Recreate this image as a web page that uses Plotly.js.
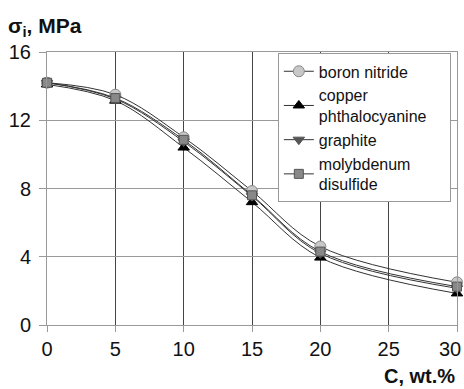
<!DOCTYPE html>
<html><head><meta charset="utf-8">
<script src="https://cdn.plot.ly/plotly-3.0.1.min.js"></script>
<style>html,body{margin:0;padding:0;background:#fff;}#c{width:464px;height:389px;}</style>
</head><body><div id="c"></div>
<script>
var concentration = [0, 5, 10, 15, 20, 30];
var boronNitride = [14.2, 13.5, 11.0, 7.85, 4.6, 2.5];
var copperPhthalocyanine = [14.1, 13.15, 10.4, 7.2, 3.95, 1.85];
var graphite = [14.2, 13.25, 10.75, 7.55, 4.2, 2.15];
var molybdenumDisulfide = [14.2, 13.3, 10.85, 7.6, 4.3, 2.25];
var seriesNames = ["boron nitride", "copper<br>phthalocyanine", "graphite", "molybdenum<br>disulfide"];
var xTicks = [0, 5, 10, 15, 20, 25, 30];
var xTickText = ["0", "5", "10", "15", "20", "25", "30"];
var yTicks = [0, 4, 8, 12, 16];

var styles = [
  {symbol: "circle", color: "#c8c8c8", lc: "#888", size: 11},
  {symbol: "triangle-up", color: "#000", lc: "#000", size: 10},
  {symbol: "triangle-down", color: "#555", lc: "#555", size: 10},
  {symbol: "square", color: "#888", lc: "#555", size: 9}
];
var legendPad = "\u00a0\u00a0\u00a0\u00a0";
var ys = [boronNitride, copperPhthalocyanine, graphite, molybdenumDisulfide];
var traces = ys.map(function(y, i){
  return {
    x: concentration, y: y, name: seriesNames[i] + (i === 1 ? legendPad : ""),
    type: "scatter", mode: "lines+markers",
    line: {shape: "spline", smoothing: 1, color: "#333", width: 1},
    marker: {symbol: styles[i].symbol, size: styles[i].size, color: styles[i].color,
             line: {color: styles[i].lc, width: 1}},
    cliponaxis: false
  };
});

var lastIdx = xTicks.length - 1;
var layout = {
  width: 464, height: 389,
  margin: {l: 47, r: 7, t: 52, b: 64, autoexpand: false},
  paper_bgcolor: "#fff", plot_bgcolor: "#fff",
  font: {family: "Arial, 'Liberation Sans', sans-serif", color: "#111", size: 20},
  showlegend: true,
  legend: {x: 0.563, y: 0.995, xanchor: "left", yanchor: "top",
           bgcolor: "#fff", bordercolor: "#999", borderwidth: 1,
           font: {size: 16, color: "#111"}, tracegroupgap: 0, itemwidth: 30},
  xaxis: {range: [0, 30], tickvals: xTicks,
          ticktext: xTickText.map(function(t, i){ return i === lastIdx ? "" : t; }),
          showgrid: true, gridcolor: "#444", gridwidth: 1, zeroline: false,
          showline: true, linecolor: "#999", mirror: true,
          ticks: "outside", ticklen: 6, tickcolor: "#999",
          automargin: false,
          tickfont: {size: 20}, fixedrange: true},
  yaxis: {range: [0, 16], tickvals: yTicks, ticktext: yTicks.map(String),
          showgrid: true, gridcolor: "#999", gridwidth: 1, zeroline: false,
          showline: true, linecolor: "#999", mirror: true,
          ticks: "outside", ticklen: 7, tickcolor: "#999",
          ticklabeloverflow: "allow", automargin: false, ticklabelstandoff: 4,
          tickfont: {size: 20}, fixedrange: true},
  annotations: [
    {text: "<b>σ<sub>i</sub>, MPa</b>", xref: "paper", yref: "paper", x: -0.1, y: 1.09,
     xanchor: "left", yanchor: "middle", showarrow: false, font: {size: 21, color: "#111"}},
    {text: "<b>C, wt.%</b>", xref: "paper", yref: "paper", x: 1.0, y: -0.187,
     xanchor: "right", yanchor: "middle", showarrow: false, font: {size: 20, color: "#111"}},
    {text: xTickText[lastIdx], xref: "x", yref: "paper", x: xTicks[lastIdx], y: -0.087,
     xanchor: "right", yanchor: "middle", xshift: 6, showarrow: false, font: {size: 20, color: "#111"}}
  ]
};
Plotly.newPlot("c", traces, layout, {displayModeBar: false, staticPlot: true});
</script></body></html>
